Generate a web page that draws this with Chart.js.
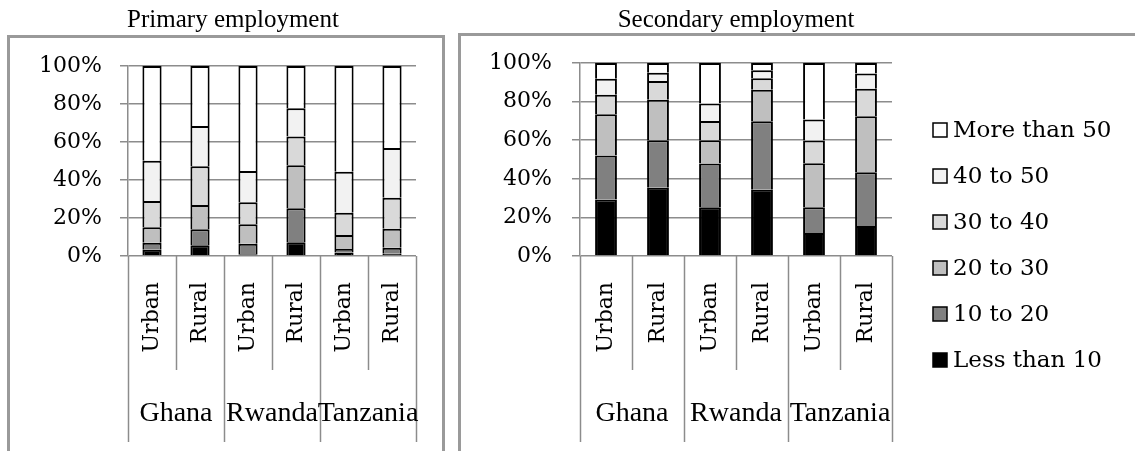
<!DOCTYPE html>
<html>
<head>
<meta charset="utf-8">
<script src="https://cdn.jsdelivr.net/npm/chart.js@4.4.1/dist/chart.umd.min.js"></script>
<style>
    body { margin: 0; background: #fff; overflow: hidden; }
    #page { position: relative; width: 1135px; height: 451px; overflow: hidden; }
    .panel { position: absolute; border: 3px solid #9a9a9a; box-sizing: border-box; }
    canvas { position: absolute; left: 0; top: 0; }
</style>
</head>
<body>
<div id="page">
    <div class="panel" style="left:7px;top:35px;width:438px;height:520px"></div>
    <div class="panel" style="left:458px;top:33px;width:720px;height:520px"></div>
    <canvas id="primaryChart" width="1135" height="451"></canvas>
    <canvas id="secondaryChart" width="1135" height="451"></canvas>
</div>
<script>
(function () {
    'use strict';

    var categories = ['Urban', 'Rural', 'Urban', 'Rural', 'Urban', 'Rural'];
    var countries = ['Ghana', 'Rwanda', 'Tanzania'];
    var seriesNames = ['Less than 10', '10 to 20', '20 to 30', '30 to 40', '40 to 50', 'More than 50'];

    // primary employment, share of workers by weekly hours (%)
    var primaryLt10 = [3.3, 5.6, 0.9, 7.2, 1.8, 1.2];
    var primary10to20 = [3.7, 8.5, 5.6, 17.9, 1.9, 3.2];
    var primary20to30 = [8.1, 12.8, 10.2, 22.7, 7.4, 10.0];
    var primary30to40 = [13.9, 20.4, 11.6, 15.1, 11.6, 16.2];
    var primary40to50 = [21.1, 21.1, 16.5, 14.8, 21.6, 26.3];
    var primaryOver50 = [49.9, 31.6, 55.2, 22.3, 55.7, 43.1];

    // secondary employment
    var secondaryLt10 = [29.3, 35.3, 25.3, 34.3, 11.9, 15.5];
    var secondary10to20 = [22.8, 24.7, 22.6, 35.5, 13.3, 27.9];
    var secondary20to30 = [21.3, 21.0, 12.1, 16.4, 22.9, 29.0];
    var secondary30to40 = [10.2, 9.7, 10.0, 5.9, 11.7, 14.2];
    var secondary40to50 = [8.3, 4.3, 9.0, 4.1, 10.9, 7.9];
    var secondaryOver50 = [8.1, 5.0, 21.0, 3.8, 29.3, 5.5];

    var fills = ['#000000', '#808080', '#bfbfbf', '#d9d9d9', '#f2f2f2', '#ffffff'];
    var gridColor = '#8c8c8c';
    var tickFamily = 'DejaVu Serif';
    var labelFamily = 'Liberation Serif';

    function buildDatasets(series, barPct) {
        return series.map(function (values, i) {
            return {
                label: seriesNames[i],
                data: values,
                backgroundColor: fills[i],
                borderColor: '#000000',
                borderWidth: 2,
                barPercentage: barPct,
                categoryPercentage: 1
            };
        });
    }

    // category separators, rotated sub labels, country labels, subtitle, legend
    var panelExtras = {
        id: 'panelExtras',
        afterDraw: function (chart, args, opts) {
            var ctx = chart.ctx;
            var x = chart.scales.x;
            var y0 = chart.scales.y.getPixelForValue(0);
            var n = chart.data.labels.length;
            var step = x.width / n;

            function edge(k) {
                if (k < n) {
                    return x.getPixelForValue(k) - step / 2;
                }
                return x.getPixelForValue(n - 1) + step / 2;
            }

            ctx.save();
            ctx.strokeStyle = gridColor;
            ctx.lineWidth = 1.5;
            for (var k = 0; k <= n; k++) {
                var ex = Math.round(edge(k)) + 0.5;
                ctx.beginPath();
                ctx.moveTo(ex, y0);
                ctx.lineTo(ex, k % 2 ? opts.innerEnd : opts.outerEnd);
                ctx.stroke();
            }

            ctx.fillStyle = '#000000';
            ctx.font = '22px "' + tickFamily + '"';
            ctx.textAlign = 'right';
            ctx.textBaseline = 'middle';
            chart.data.labels.forEach(function (label, i) {
                ctx.save();
                ctx.translate(x.getPixelForValue(i), opts.subTop);
                ctx.rotate(-Math.PI / 2);
                ctx.fillText(label, 0, 0);
                ctx.restore();
            });

            ctx.font = '28px "' + labelFamily + '"';
            ctx.textAlign = 'center';
            ctx.textBaseline = 'alphabetic';
            countries.forEach(function (name, g) {
                ctx.fillText(name, (edge(g * 2) + edge(g * 2 + 2)) / 2, opts.groupBaseline);
            });

            ctx.font = '25px "' + labelFamily + '"';
            ctx.fillText(opts.subtitle, opts.subtitleX, 27);

            if (opts.legend) {
                var ds = chart.data.datasets;
                ctx.font = '23px "' + tickFamily + '"';
                ctx.textAlign = 'left';
                ctx.textBaseline = 'middle';
                ctx.lineWidth = 1.5;
                ctx.strokeStyle = '#000000';
                for (var i = 0; i < ds.length; i++) {
                    var d = ds[ds.length - 1 - i];
                    var ry = opts.legend.top + i * opts.legend.step;
                    ctx.fillStyle = d.backgroundColor;
                    ctx.fillRect(opts.legend.x, ry - 7, 14, 14);
                    ctx.strokeRect(opts.legend.x, ry - 7, 14, 14);
                    ctx.fillStyle = '#000000';
                    ctx.fillText(d.label, opts.legend.x + 20, ry + 1);
                }
            }
            ctx.restore();
        }
    };

    function makeChart(id, series, cfg) {
        return new Chart(document.getElementById(id), {
            type: 'bar',
            data: {
                labels: categories,
                datasets: buildDatasets(series, cfg.barPct)
            },
            options: {
                responsive: false,
                animation: false,
                devicePixelRatio: 1,
                layout: {
                    padding: { left: 0, right: cfg.padRight, top: cfg.padTop, bottom: 195 }
                },
                scales: {
                    x: { stacked: true, display: false },
                    y: {
                        stacked: true,
                        min: 0,
                        max: 100,
                        afterFit: function (scale) {
                            scale.width = cfg.axisWidth;
                        },
                        border: { display: true, color: gridColor, width: 1.5 },
                        grid: { color: gridColor, lineWidth: 1.5, tickLength: 8 },
                        ticks: {
                            stepSize: 20,
                            padding: cfg.tickPad,
                            color: '#000000',
                            font: { family: tickFamily, size: 22 },
                            callback: function (v) {
                                return v + '%';
                            }
                        }
                    }
                },
                plugins: {
                    legend: { display: false },
                    tooltip: { enabled: false },
                    panelExtras: {
                        subtitle: cfg.subtitle,
                        subtitleX: cfg.subtitleX,
                        subTop: 282,
                        innerEnd: 370,
                        outerEnd: 442,
                        groupBaseline: 421,
                        legend: cfg.legend
                    }
                }
            },
            plugins: [panelExtras]
        });
    }

    makeChart('primaryChart',
        [primaryLt10, primary10to20, primary20to30, primary30to40, primary40to50, primaryOver50], {
            barPct: 0.4,
            axisWidth: 128,
            padRight: 1135 - 416,
            padTop: 66,
            tickPad: 18,
            subtitle: 'Primary employment',
            subtitleX: 233,
            legend: null
        });

    makeChart('secondaryChart',
        [secondaryLt10, secondary10to20, secondary20to30, secondary30to40, secondary40to50, secondaryOver50], {
            barPct: 0.42,
            axisWidth: 580,
            padRight: 1135 - 892,
            padTop: 63,
            tickPad: 20,
            subtitle: 'Secondary employment',
            subtitleX: 736,
            legend: { x: 933, top: 130, step: 46 }
        });
})();
</script>
</body>
</html>
